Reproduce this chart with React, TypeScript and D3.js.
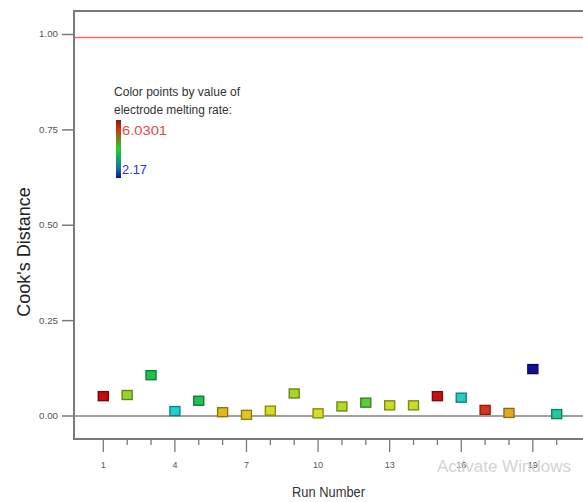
import React from "react";
import * as d3 from "d3";

const runs = [1, 2, 3, 4, 5, 6, 7, 8, 9, 10, 11, 12, 13, 14, 15, 16, 17, 18, 19, 20];
const cooksDistance = [0.052, 0.055, 0.107, 0.013, 0.040, 0.010, 0.003, 0.014, 0.059, 0.007, 0.025, 0.035, 0.028, 0.028, 0.052, 0.048, 0.016, 0.008, 0.123, 0.005];
const meltingRate = [5.95, 4.6, 4.0, 3.1, 3.95, 5.05, 5.0, 4.85, 4.65, 4.85, 4.7, 4.35, 4.8, 4.8, 5.9, 3.2, 5.6, 5.1, 2.17, 3.45];
const yTicks = [0, 0.25, 0.5, 0.75, 1.0];
const xLabelRuns = [1, 4, 7, 10, 13, 16, 19];
const threshold = 0.992;
const rateMin = 2.17;
const rateMax = 6.0301;

const W = 583;
const H = 502;

export default function App() {
  const x = d3.scaleLinear().domain([1, 20]).range([103.3, 556.7]);
  const y = d3.scaleLinear().domain([0, 1]).range([416, 34.5]);
  const color = d3
    .scaleLinear<string>()
    .domain([2.17, 3.1, 4.1, 4.9, 5.5, 6.0301])
    .range(["#10109a", "#20d0d0", "#20c040", "#e2e020", "#e04020", "#c00010"])
    .interpolate(d3.interpolateRgb);

  const frameLeft = 74;
  const frameTop = 11;
  const frameBottom = 439;
  const font = "'Liberation Sans', Arial, sans-serif";

  return (
    <svg
      width={W}
      height={H}
      style={{ position: "absolute", left: 0, top: 0, background: "#fff" }}
      fontFamily={font}
    >
      <defs>
        <linearGradient id="rateGrad" x1="0" y1="0" x2="0" y2="1">
          <stop offset="0%" stopColor="#8a1a10" />
          <stop offset="15%" stopColor="#d03010" />
          <stop offset="50%" stopColor="#20d030" />
          <stop offset="85%" stopColor="#1070a0" />
          <stop offset="100%" stopColor="#0a10a0" />
        </linearGradient>
      </defs>
      {/* frame */}
      <rect x={frameLeft} y={frameTop} width={W + 20 - frameLeft} height={frameBottom - frameTop} fill="none" stroke="#7a7a7a" strokeWidth={2} />
      {/* threshold line */}
      <line x1={frameLeft + 1} x2={W} y1={y(threshold)} y2={y(threshold)} stroke="#e07070" strokeWidth={1.6} />
      {/* zero line */}
      <line x1={frameLeft} x2={W} y1={y(0)} y2={y(0)} stroke="#808080" strokeWidth={1.6} />
      {/* y ticks */}
      {yTicks.map((t) => (
        <g key={t}>
          <line x1={62} x2={frameLeft} y1={y(t)} y2={y(t)} stroke="#7a7a7a" strokeWidth={1.5} />
          <text x={58} y={y(t)} dy="0.35em" textAnchor="end" fontSize={8.5} fill="#555" textLength={19} lengthAdjust="spacingAndGlyphs">
            {d3.format(".2f")(t)}
          </text>
        </g>
      ))}
      {/* x ticks */}
      {runs.map((r) => {
        const major = xLabelRuns.includes(r);
        return (
          <g key={r}>
            <line x1={x(r)} x2={x(r)} y1={frameBottom} y2={frameBottom + (major ? 13 : 6)} stroke="#7a7a7a" strokeWidth={1.3} />
            {major && (
              <text x={x(r)} y={465} dy="0.35em" textAnchor="middle" fontSize={9} fill="#555">
                {r}
              </text>
            )}
          </g>
        );
      })}
      {/* points */}
      {runs.map((r, i) => {
        const fill = color(meltingRate[i]);
        const stroke = d3.color(fill)!.darker(1.3).formatHex();
        return (
          <rect
            key={r}
            x={x(r) - 5}
            y={y(cooksDistance[i]) - 4.5}
            width={10}
            height={9}
            fill={fill}
            stroke={stroke}
            strokeWidth={1.4}
          />
        );
      })}
      {/* legend */}
      <text x={114} y={96} fontSize={12} fill="#333" textLength={126} lengthAdjust="spacingAndGlyphs">Color points by value of</text>
      <text x={114} y={114} fontSize={12} fill="#333" textLength={118} lengthAdjust="spacingAndGlyphs">electrode melting rate:</text>
      <rect x={116} y={120} width={5} height={58} fill="url(#rateGrad)" />
      <text x={122} y={130} dy="0.35em" fontSize={13} fill="#e04848" textLength={45} lengthAdjust="spacingAndGlyphs">{d3.format(".4f")(rateMax)}</text>
      <text x={122} y={169} dy="0.35em" fontSize={13} fill="#3030d0" textLength={25} lengthAdjust="spacingAndGlyphs">{rateMin}</text>
      {/* axis titles */}
      <text transform="translate(30,252) rotate(-90)" textAnchor="middle" fontSize={18} fill="#222">Cook's Distance</text>
      <text x={292} y={497} fontSize={14} fill="#333" textLength={73} lengthAdjust="spacingAndGlyphs">Run Number</text>
      {/* watermark */}
      <text x={437} y={472} fontSize={16} fill="#d4d4d4" textLength={134} lengthAdjust="spacingAndGlyphs">Activate Windows</text>
    </svg>
  );
}
